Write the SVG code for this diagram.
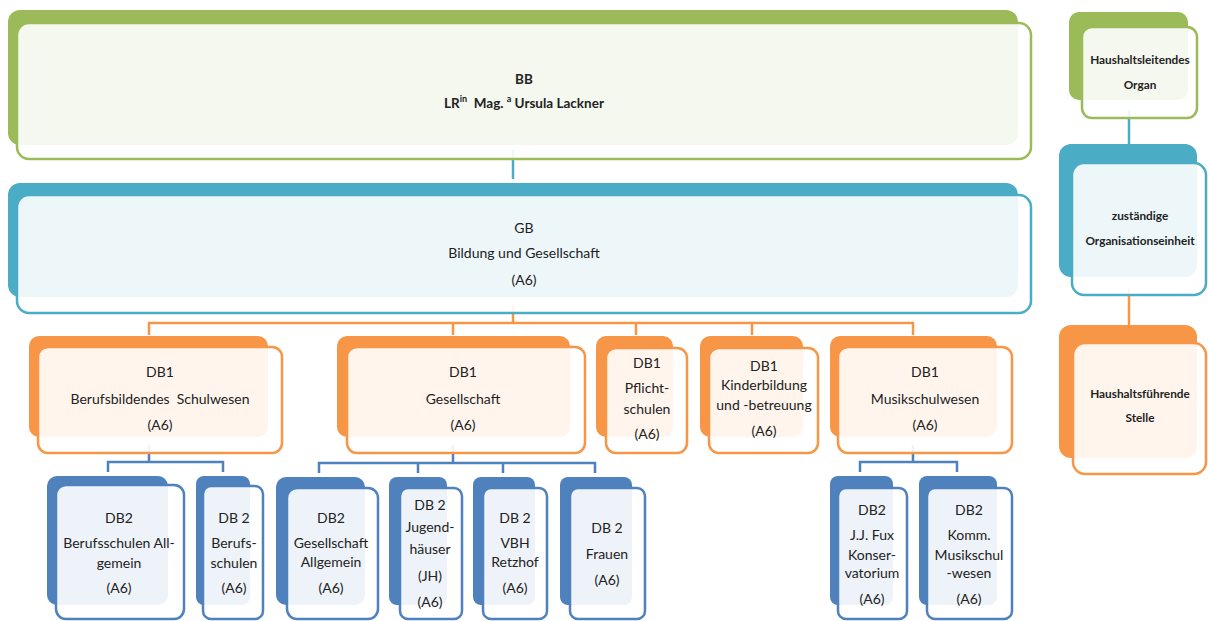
<svg xmlns="http://www.w3.org/2000/svg" width="1208" height="621" viewBox="0 0 1208 621">
<style>
text{font-family:Lato,"Open Sans","Liberation Sans",sans-serif;fill:#222;text-anchor:middle}
.t{font-size:14px}
.b{font-size:13.5px;font-weight:bold}
.l{font-size:11.8px;font-weight:bold}
.front{fill:#fff;fill-opacity:0.9;stroke-width:2.5}
.g .back{fill:#9bbb59}.g .front{stroke:#9bbb59}
.c .back{fill:#4bacc6}.c .front{stroke:#4bacc6}
.o .back{fill:#f79646}.o .front{stroke:#f79646}
.d .back{fill:#4f81bd}.d .front{stroke:#4f81bd}
.cn{fill:none;stroke-width:2.5}
.cc{stroke:#4bacc6}.co{stroke:#f79646}.cd{stroke:#4f81bd}
</style>
<rect width="1208" height="621" fill="#fff"/>
<g id="connectors">
<path class="cn cc" d="M513 150V179"/>
<path class="cn co" d="M513 305V323M149 335V323H913V335M453 323V335M636 323V335M752 323V335"/>
<path class="cn cd" d="M149 445V462M108 472V462H223V472"/>
<path class="cn cd" d="M453 445V463M319 473V463H595V473M418 463V473M503 463V473"/>
<path class="cn cd" d="M913 445V462M860 472V462H957V472"/>
<path class="cn cc" d="M1129 110V145"/>
<path class="cn co" d="M1129 288V325"/>
</g>
<g id="bb" class="g">
<rect class="back" x="8" y="10" width="1010" height="135" rx="12"/>
<rect class="front" x="17" y="23" width="1014" height="136" rx="12"/>
<text class="b" x="524" y="84">BB</text>
<text class="b" x="524" y="108">LR<tspan font-size="9" dy="-6">in</tspan><tspan dy="6" xml:space="preserve">  Mag. </tspan><tspan font-size="9" dy="-6">a</tspan><tspan dy="6"> Ursula Lackner</tspan></text>
</g>
<g id="gb" class="c">
<rect class="back" x="8" y="183" width="1010" height="114" rx="12"/>
<rect class="front" x="17" y="195" width="1014" height="118" rx="12"/>
<text class="t" x="524" y="233">GB</text>
<text class="t" x="524" y="258">Bildung und Gesellschaft</text>
<text class="t" x="524" y="285">(A6)</text>
</g>
<g id="db1-berufsbildendes" class="o">
<rect class="back" x="29" y="336" width="239" height="101" rx="10"/>
<rect class="front" x="38" y="347" width="244" height="106" rx="10"/>
<text class="t" x="160" y="377">DB1</text>
<text class="t" x="160" y="404" xml:space="preserve">Berufsbildendes  Schulwesen</text>
<text class="t" x="160" y="430">(A6)</text>
</g>
<g id="db1-gesellschaft" class="o">
<rect class="back" x="337" y="336" width="233" height="101" rx="10"/>
<rect class="front" x="347" y="347" width="238" height="106" rx="10"/>
<text class="t" x="463" y="377">DB1</text>
<text class="t" x="463" y="404">Gesellschaft</text>
<text class="t" x="463" y="430">(A6)</text>
</g>
<g id="db1-pflichtschulen" class="o">
<rect class="back" x="596" y="336" width="77" height="101" rx="10"/>
<rect class="front" x="606" y="348" width="81" height="105" rx="10"/>
<text class="t" x="647" y="368">DB1</text>
<text class="t" x="647" y="393">Pflicht-</text>
<text class="t" x="647" y="414">schulen</text>
<text class="t" x="647" y="439">(A6)</text>
</g>
<g id="db1-kinderbildung" class="o">
<rect class="back" x="700" y="336" width="103" height="101" rx="10"/>
<rect class="front" x="709" y="348" width="109" height="105" rx="10"/>
<text class="t" x="764" y="371">DB1</text>
<text class="t" x="764" y="390">Kinderbildung</text>
<text class="t" x="764" y="410">und -betreuung</text>
<text class="t" x="764" y="436">(A6)</text>
</g>
<g id="db1-musikschulwesen" class="o">
<rect class="back" x="830" y="336" width="167" height="101" rx="10"/>
<rect class="front" x="838" y="347" width="174" height="106" rx="10"/>
<text class="t" x="925" y="377">DB1</text>
<text class="t" x="925" y="404">Musikschulwesen</text>
<text class="t" x="925" y="430">(A6)</text>
</g>
<g id="db2-berufsschulen-allgemein" class="d">
<rect class="back" x="47" y="476" width="121" height="129" rx="10"/>
<rect class="front" x="56" y="485" width="128" height="134" rx="10"/>
<text class="t" x="119" y="523">DB2</text>
<text class="t" x="119" y="548">Berufsschulen All-</text>
<text class="t" x="119" y="568">gemein</text>
<text class="t" x="119" y="593">(A6)</text>
</g>
<g id="db2-berufsschulen" class="d">
<rect class="back" x="196" y="476" width="54" height="129" rx="8"/>
<rect class="front" x="203" y="486" width="60" height="133" rx="8"/>
<text class="t" x="234" y="523">DB 2</text>
<text class="t" x="234" y="548">Berufs-</text>
<text class="t" x="234" y="568">schulen</text>
<text class="t" x="234" y="593">(A6)</text>
</g>
<g id="db2-gesellschaft-allgemein" class="d">
<rect class="back" x="276" y="477" width="89" height="128" rx="10"/>
<rect class="front" x="287" y="488" width="91" height="131" rx="10"/>
<text class="t" x="331" y="523">DB2</text>
<text class="t" x="331" y="548">Gesellschaft</text>
<text class="t" x="331" y="567">Allgemein</text>
<text class="t" x="331" y="593">(A6)</text>
</g>
<g id="db2-jugendhaeuser" class="d">
<rect class="back" x="389" y="477" width="58" height="128" rx="8"/>
<rect class="front" x="400" y="488" width="62" height="131" rx="8"/>
<text class="t" x="430" y="510">DB 2</text>
<text class="t" x="430" y="532">Jugend-</text>
<text class="t" x="430" y="554">häuser</text>
<text class="t" x="430" y="581">(JH)</text>
<text class="t" x="430" y="607">(A6)</text>
</g>
<g id="db2-vbh-retzhof" class="d">
<rect class="back" x="473" y="477" width="62" height="128" rx="8"/>
<rect class="front" x="483" y="488" width="64" height="131" rx="8"/>
<text class="t" x="515" y="523">DB 2</text>
<text class="t" x="515" y="548">VBH</text>
<text class="t" x="515" y="567">Retzhof</text>
<text class="t" x="515" y="593">(A6)</text>
</g>
<g id="db2-frauen" class="d">
<rect class="back" x="560" y="477" width="72" height="128" rx="8"/>
<rect class="front" x="570" y="488" width="75" height="131" rx="8"/>
<text class="t" x="607" y="533">DB 2</text>
<text class="t" x="607" y="559">Frauen</text>
<text class="t" x="607" y="585">(A6)</text>
</g>
<g id="db2-fux" class="d">
<rect class="back" x="830" y="476" width="63" height="129" rx="8"/>
<rect class="front" x="838" y="488" width="69" height="131" rx="8"/>
<text class="t" x="872" y="515">DB2</text>
<text class="t" x="872" y="540">J.J. Fux</text>
<text class="t" x="872" y="560">Konser-</text>
<text class="t" x="872" y="578">vatorium</text>
<text class="t" x="872" y="604">(A6)</text>
</g>
<g id="db2-musikschulwesen" class="d">
<rect class="back" x="919" y="476" width="78" height="129" rx="8"/>
<rect class="front" x="927" y="488" width="85" height="131" rx="8"/>
<text class="t" x="969" y="515">DB2</text>
<text class="t" x="969" y="540">Komm.</text>
<text class="t" x="969" y="560">Musikschul</text>
<text class="t" x="969" y="578">-wesen</text>
<text class="t" x="969" y="604">(A6)</text>
</g>
<g id="legend-haushaltsleitendes" class="g">
<rect class="back" x="1069" y="12" width="119" height="88" rx="10"/>
<rect class="front" x="1082" y="27" width="115" height="91" rx="10"/>
<text class="l" x="1140" y="64">Haushaltsleitendes</text>
<text class="l" x="1140" y="89">Organ</text>
</g>
<g id="legend-organisationseinheit" class="c">
<rect class="back" x="1059" y="144" width="138" height="133" rx="12"/>
<rect class="front" x="1072" y="163" width="134" height="132" rx="12"/>
<text class="l" x="1140" y="220">zuständige</text>
<text class="l" x="1140" y="245">Organisationseinheit</text>
</g>
<g id="legend-haushaltsfuehrende" class="o">
<rect class="back" x="1059" y="325" width="138" height="133" rx="12"/>
<rect class="front" x="1073" y="343" width="133" height="131" rx="12"/>
<text class="l" x="1140" y="398">Haushaltsführende</text>
<text class="l" x="1140" y="422">Stelle</text>
</g>
</svg>
